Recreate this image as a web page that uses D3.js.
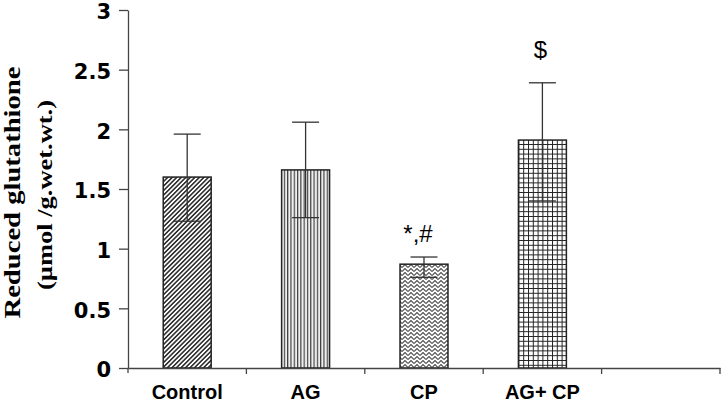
<!DOCTYPE html>
<html>
<head>
<meta charset="utf-8">
<script src="https://cdn.jsdelivr.net/npm/d3@7"></script>
<style>
  body { margin: 0; background: #fff; }
  svg { display: block; }
</style>
</head>
<body>
<div id="chart"></div>
<script>
// values
var groups = ["Control", "AG", "CP", "AG+ CP", ""];
var means = [1.6, 1.66, 0.87, 1.91];
var upper = [1.96, 2.06, 0.93, 2.39];
var lower = [1.23, 1.26, 0.76, 1.40];
var marks = ["", "", "*,#", "$"];
var fills = ["diag", "vert", "weave", "grid"];
var yTicks = [0, 0.5, 1, 1.5, 2, 2.5, 3];

var width = 722, height = 404;

var svg = d3.select("#chart").append("svg")
    .attr("width", width)
    .attr("height", height);

var y = d3.scaleLinear().domain([0, 3]).range([368, 10]);
var x = d3.scaleBand().domain(groups).range([128, 720]).padding(0);

// fill patterns
var defs = svg.append("defs");

var p1 = defs.append("pattern").attr("id", "diag")
    .attr("patternUnits", "userSpaceOnUse")
    .attr("width", 3.2).attr("height", 6)
    .attr("patternTransform", "rotate(45)");
p1.append("rect").attr("width", 3.2).attr("height", 6).attr("fill", "#fff");
p1.append("line").attr("x1", 0.8).attr("x2", 0.8).attr("y1", 0).attr("y2", 6)
    .attr("stroke", "#222").attr("stroke-width", 1.5);

var p2 = defs.append("pattern").attr("id", "vert")
    .attr("patternUnits", "userSpaceOnUse")
    .attr("width", 3.3).attr("height", 6);
p2.append("rect").attr("width", 3.3).attr("height", 6).attr("fill", "#eee");
p2.append("line").attr("x1", 0.6).attr("x2", 0.6).attr("y1", 0).attr("y2", 6)
    .attr("stroke", "#333").attr("stroke-width", 1.1);

var p3 = defs.append("pattern").attr("id", "weave")
    .attr("patternUnits", "userSpaceOnUse")
    .attr("width", 6).attr("height", 4);
p3.append("rect").attr("width", 6).attr("height", 4).attr("fill", "#fff");
p3.append("path").attr("d", "M0,3.5 L3,0.5 L6,3.5")
    .attr("fill", "none").attr("stroke", "#555").attr("stroke-width", 1.2);

var p4 = defs.append("pattern").attr("id", "grid")
    .attr("patternUnits", "userSpaceOnUse")
    .attr("width", 4.8).attr("height", 4.8);
p4.append("rect").attr("width", 4.8).attr("height", 4.8).attr("fill", "#fff");
p4.append("path").attr("d", "M0.5,0 V4.8 M0,0.5 H4.8")
    .attr("fill", "none").attr("stroke", "#222").attr("stroke-width", 1);

var data = means.map(function (m, i) {
    return {g: groups[i], mean: m, hi: upper[i], lo: lower[i], mark: marks[i], fill: fills[i]};
});

var barW = x.bandwidth() * 0.405;

// bars
svg.selectAll(".bar")
    .data(data)
    .enter().append("rect")
    .attr("class", "bar")
    .attr("x", function (d) { return x(d.g) + (x.bandwidth() - barW) / 2; })
    .attr("y", function (d) { return y(d.mean); })
    .attr("width", barW)
    .attr("height", function (d) { return y(0) - y(d.mean); })
    .attr("fill", function (d) { return "url(#" + d.fill + ")"; })
    .attr("stroke", "#222")
    .attr("stroke-width", 1.5);

// error bars
var err = svg.selectAll(".err")
    .data(data)
    .enter().append("g")
    .attr("class", "err")
    .attr("stroke", "#333")
    .attr("stroke-width", 1.3);

var cx = function (d) { return x(d.g) + x.bandwidth() / 2; };

err.append("line")
    .attr("x1", cx).attr("x2", cx)
    .attr("y1", function (d) { return y(d.lo); })
    .attr("y2", function (d) { return y(d.hi); });
err.append("line")
    .attr("x1", function (d) { return cx(d) - 13.5; })
    .attr("x2", function (d) { return cx(d) + 13.5; })
    .attr("y1", function (d) { return y(d.hi); })
    .attr("y2", function (d) { return y(d.hi); });
err.append("line")
    .attr("x1", function (d) { return cx(d) - 13.5; })
    .attr("x2", function (d) { return cx(d) + 13.5; })
    .attr("y1", function (d) { return y(d.lo); })
    .attr("y2", function (d) { return y(d.lo); });

// significance marks
svg.selectAll(".mark")
    .data(data.filter(function (d) { return d.mark; }))
    .enter().append("text")
    .attr("class", "mark")
    .attr("x", function (d) { return cx(d) - (d.mark.length > 1 ? 6 : 2); })
    .attr("y", function (d) { return y(d.hi) - (d.mark.length > 1 ? 15 : 25); })
    .attr("text-anchor", "middle")
    .style("font-family", "'Liberation Sans', Arial, sans-serif")
    .style("font-size", "24px")
    .text(function (d) { return d.mark; });

// y axis
var yAxis = svg.append("g")
    .attr("transform", "translate(128,0)")
    .call(d3.axisLeft(y).tickValues(yTicks).tickFormat(d3.format("~g"))
        .tickSize(9).tickSizeOuter(0).tickPadding(8));
yAxis.selectAll("line, path").attr("stroke", "#444").attr("stroke-width", 1.3);
yAxis.selectAll("text")
    .attr("dy", "0.42em")
    .style("font-family", "'DejaVu Sans', sans-serif")
    .style("font-weight", "bold")
    .style("font-size", "21px")
    .attr("fill", "#000");
// tail below zero
svg.append("line").attr("x1", 128).attr("x2", 128).attr("y1", y(0)).attr("y2", y(0) + 5)
    .attr("stroke", "#444").attr("stroke-width", 1.3);

// x axis
var xAxis = svg.append("g")
    .attr("transform", "translate(0," + y(0) + ")")
    .call(d3.axisBottom(x).tickSize(0).tickPadding(17));
xAxis.select(".domain").attr("stroke", "#444").attr("stroke-width", 1.3);
xAxis.selectAll("text")
    .style("font-family", "'Liberation Sans', Arial, sans-serif")
    .style("font-weight", "bold")
    .style("font-size", "20px")
    .attr("fill", "#000");

var bounds = groups.map(function (g) { return x(g); }).concat([x.range()[1]]);
xAxis.selectAll(".bound")
    .data(bounds.slice(1))
    .enter().append("line")
    .attr("class", "bound")
    .attr("x1", function (d) { return d; }).attr("x2", function (d) { return d; })
    .attr("y1", 0).attr("y2", 6)
    .attr("stroke", "#444").attr("stroke-width", 1.3);

// y title
var title = svg.append("g")
    .style("font-family", "'Liberation Serif', 'Times New Roman', serif")
    .style("font-weight", "bold")
    .attr("fill", "#000");
title.append("text")
    .attr("transform", "translate(20,192.5) rotate(-90)")
    .attr("text-anchor", "middle")
    .style("font-size", "24px")
    .attr("textLength", 252)
    .attr("lengthAdjust", "spacingAndGlyphs")
    .text("Reduced glutathione");
title.append("text")
    .attr("transform", "translate(52,195) rotate(-90)")
    .attr("text-anchor", "middle")
    .style("font-size", "20px")
    .attr("textLength", 190)
    .attr("lengthAdjust", "spacingAndGlyphs")
    .text("(µmol /g.wet.wt.)");
</script>
</body>
</html>
